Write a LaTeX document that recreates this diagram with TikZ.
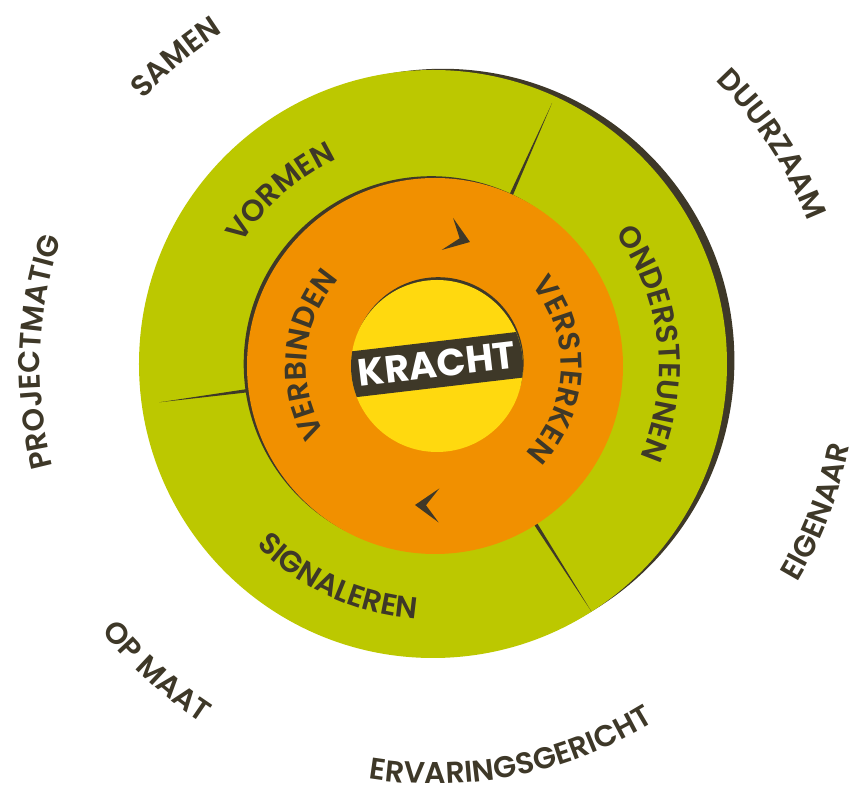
\documentclass[tikz,border=0pt]{standalone}
\usepackage{fontspec}
\setmainfont{Poppins}[UprightFont=* SemiBold, BoldFont=* Bold]
\usetikzlibrary{decorations.text}

\definecolor{leaf}{HTML}{BCC800}
\definecolor{amber}{HTML}{F19000}
\definecolor{sun}{HTML}{FFD90F}
\definecolor{ink}{HTML}{3E3828}

\newcommand\ringsize{\fontsize{30}{30}\selectfont}
% tapered divider in the green ring: angle, outer radius
\newcommand\divider[2]{\fill[ink] (#1+0.55:184) -- (#1:#2) -- (#1-0.55:184) -- cycle;}
% chevron arrowhead: tip, direction
\newcommand\turn[2]{\fill[ink, shift={#1}, rotate=#2] (0,0) -- (-24,17) -- (-11,0) -- (-24,-17) -- cycle;}

\begin{document}
\begin{tikzpicture}[x=1pt, y=1pt, ringtext/.style={decorate, decoration={text along path, text={|\ringsize|#1}, text align=center, text color=ink}}]
\useasboundingbox (-435,-425) rectangle (417,366);

% outer ring
\fill[ink] (7.7,5.5) circle[radius=291.7];
\fill[leaf] (-2,2) circle[radius=294];
\divider{66}{288}
\divider{187.5}{278}
\divider{-57.5}{291}

% middle ring
\fill[ink] (-3.6,2.1) circle[radius=187.7];
\fill[amber] (0,0) circle[radius=188];
\turn{(35,124)}{-19.6}
\turn{(-20,-139)}{178.9}

% core
\fill[ink] (3.2,3.4) circle[radius=85.4];
\fill[sun] (2,0) circle[radius=86];
\begin{scope}
\clip (2,0) circle[radius=86];
\fill[ink, rotate around={6.7:(2,1.5)}] (-98,-21.5) rectangle (102,24.5);
\end{scope}
\node[text=white, font=\fontsize{38}{38}\selectfont\bfseries, rotate=6.7] (kracht) at (2,2) {KRACHT};

% ring labels
\path[ringtext=VORMEN] (166.6:229) arc[start angle=166.6, end angle=96.6, radius=229];
\path[ringtext=ONDERSTEUNEN] (46.2:224) arc[start angle=46.2, end angle=-33.8, radius=224];
\path[ringtext=SIGNALEREN] (210.5:253.5) arc[start angle=210.5, end angle=280.5, radius=253.5];
\path[ringtext=VERBINDEN] (234.7:129) arc[start angle=234.7, end angle=114.7, radius=129];
\path[ringtext=VERSTERKEN] (58:126) arc[start angle=58, end angle=-62, radius=126];

% outer labels
\path[ringtext=SAMEN] (150:395) arc[start angle=150, end angle=110, radius=395];
\path[ringtext=PROJECTMATIG] (208:395) arc[start angle=208, end angle=148, radius=395];
\path[ringtext=DUURZAAM] (58.4:400) arc[start angle=58.4, end angle=8.4, radius=400];
\path[ringtext=EIGENAAR] (-45.9:422) arc[start angle=-45.9, end angle=4.1, radius=422];
\path[ringtext=ERVARINGSGERICHT] (-113.8:418) arc[start angle=-113.8, end angle=-43.8, radius=418];
\path[ringtext=OP MAAT] (207.7:426) arc[start angle=207.7, end angle=247.7, radius=426];
\end{tikzpicture}
\end{document}
